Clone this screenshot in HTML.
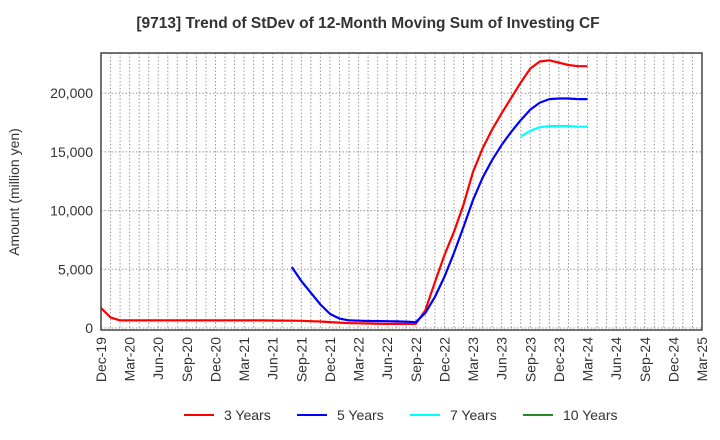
<!DOCTYPE html>
<html><head><meta charset="utf-8"><style>
body{margin:0;background:#fff;}
svg{display:block;font-family:"Liberation Sans",sans-serif;}
</style></head><body>
<svg id="chart" width="720" height="440">
<text x="368" y="28" text-anchor="middle" font-size="15.5" font-weight="bold" fill="#333">[9713]  Trend of StDev of 12-Month Moving Sum of Investing CF</text>
<text x="19" y="192" text-anchor="middle" font-size="14" fill="#333" transform="rotate(-90 19 192)">Amount (million yen)</text>
<g id="grid"></g><g id="series"></g><g id="axes"></g>
<g>
<line x1="184" y1="415" x2="214" y2="415" stroke="#ff0000" stroke-width="2"/>
<text x="224" y="420" font-size="14" fill="#333">3 Years</text>
<line x1="297" y1="415" x2="327" y2="415" stroke="#0000ff" stroke-width="2"/>
<text x="337" y="420" font-size="14" fill="#333">5 Years</text>
<line x1="410" y1="415" x2="440" y2="415" stroke="#00ffff" stroke-width="2"/>
<text x="450" y="420" font-size="14" fill="#333">7 Years</text>
<line x1="523" y1="415" x2="553" y2="415" stroke="#228b22" stroke-width="2"/>
<text x="563" y="420" font-size="14" fill="#333">10 Years</text>
</g>
</svg>
<script>
const monthsCount = 63;
const xTickLabels = ["Dec-19","Mar-20","Jun-20","Sep-20","Dec-20","Mar-21","Jun-21","Sep-21","Dec-21","Mar-22","Jun-22","Sep-22","Dec-22","Mar-23","Jun-23","Sep-23","Dec-23","Mar-24","Jun-24","Sep-24","Dec-24","Mar-25"];
const yTicks = [0,5000,10000,15000,20000];
const yTickLabels = ["0","5,000","10,000","15,000","20,000"];
const red3 = [1700,900,650,650,650,650,650,650,650,650,650,650,650,650,650,650,650,650,640,630,620,610,580,550,500,460,420,400,380,360,350,350,350,350,1500,3900,6200,8200,10500,13300,15300,16900,18300,19600,20900,22100,22700,22800,22600,22400,22300,22300];
const blue5Start = 20;
const blue5 = [5200,4000,3000,2000,1200,800,650,620,600,590,580,560,540,500,1280,2650,4350,6400,8600,10900,12800,14300,15600,16700,17700,18600,19200,19500,19550,19550,19500,19500];
const cyan7Start = 44;
const cyan7 = [16300,16800,17100,17200,17200,17200,17150,17150];
const green10 = [];

const L=101,R=702,T=53,B=330,Y0=328,PX5000=58.7;
const x=i=>L+(R-L)*i/monthsCount;
const y=v=>Y0-v/5000*PX5000;
const NS="http://www.w3.org/2000/svg";
function mk(tag,attrs,parent){const e=document.createElementNS(NS,tag);for(const k in attrs)e.setAttribute(k,attrs[k]);parent.appendChild(e);return e;}
const grid=document.getElementById('grid'),axes=document.getElementById('axes'),series=document.getElementById('series');
for(let i=1;i<monthsCount;i++){
 const l=mk('line',{x1:x(i),x2:x(i),y1:T,y2:B,stroke:'#999','stroke-dasharray':'1.5,2','stroke-width':1},grid);
 
 
}
yTicks.forEach((v,k)=>{
 const l=mk('line',{x1:L,x2:R,y1:y(v),y2:y(v),stroke:'#999','stroke-dasharray':'1.5,2','stroke-width':1},grid);
 
 
 const t=mk('text',{x:L-8,y:y(v)+5,'text-anchor':'end','font-size':14,fill:'#333'},axes);
 t.textContent=yTickLabels[k];
 
 
});
const frame=mk('rect',{x:L,y:T,width:R-L,height:B-T,fill:'none',stroke:'#444','stroke-width':1.5},axes);


xTickLabels.forEach((s,k)=>{
 const xx=x(k*3);
 const t=mk('text',{x:xx+5,y:337,'text-anchor':'end','font-size':14,fill:'#333',transform:`rotate(-90 ${xx+5} 337)`},axes);
 t.textContent=s;
 
 
});
function line(arr,start,color,name){
 if(!arr.length)return;
 const d=arr.map((v,i)=>(i?'L':'M')+x(start+i).toFixed(1)+','+y(v).toFixed(1)).join(' ');
 const p=mk('path',{d:d,fill:'none',stroke:color,'stroke-width':2.2,'stroke-linejoin':'round'},series);
 
 
}
line(red3,0,'#ff0000','series-3-years');
line(blue5,blue5Start,'#0000ff','series-5-years');
line(cyan7,cyan7Start,'#00ffff','series-7-years');
line(green10,0,'#228b22','series-10-years');
</script>
</body></html>
